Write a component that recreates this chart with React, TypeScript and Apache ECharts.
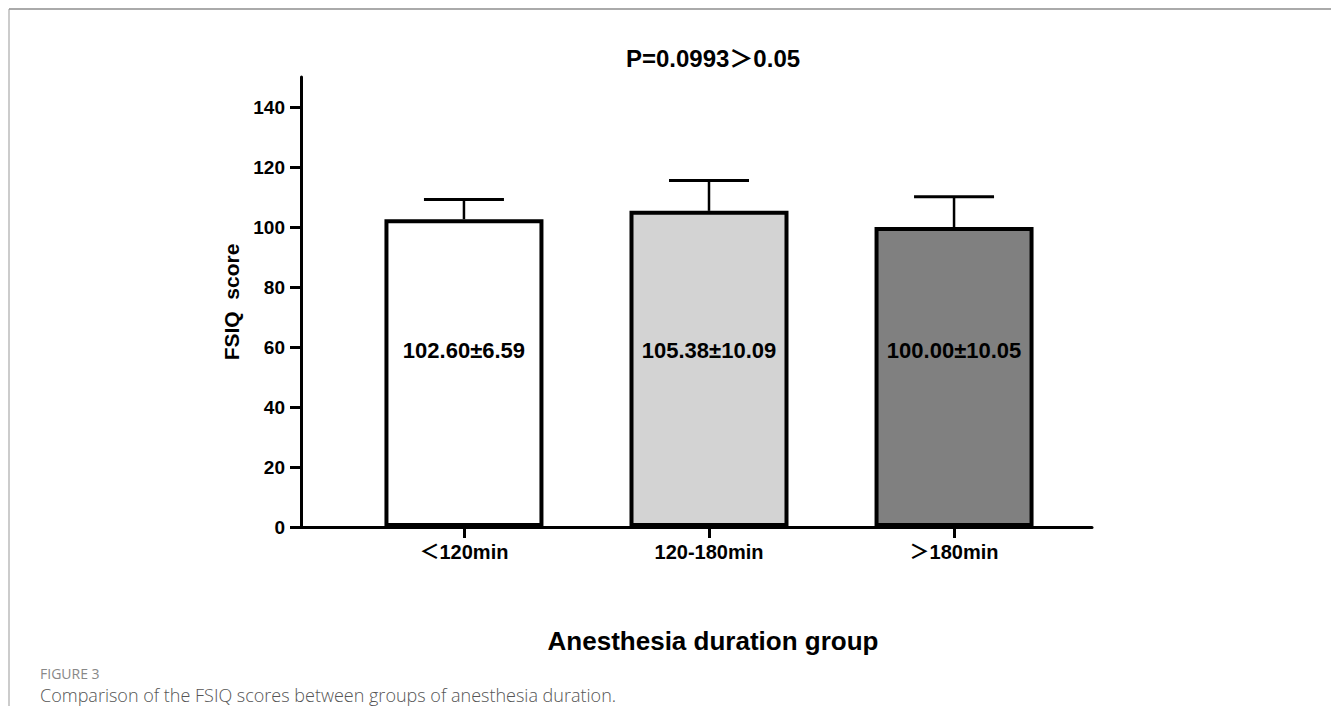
import React, { useEffect, useRef } from "react";
import * as echarts from "echarts";

const categories = ["＜120min", "120-180min", "＞180min"];
const means = [102.6, 105.38, 100.0];
const sds = [6.59, 10.09, 10.05];
const barColors = ["#ffffff", "#d3d3d3", "#808080"];
const yTicks = [0, 20, 40, 60, 80, 100, 120, 140];
const titleText = "P=0.0993＞0.05";
const xName = "Anesthesia duration group";
const yName = "FSIQ  score";
const figLabel = "FIGURE 3";
const caption = "Comparison of the FSIQ scores between groups of anesthesia duration.";

const FONT = "'Liberation Sans', Arial, 'Noto Sans CJK SC', sans-serif";

export default function App() {
  const ref = useRef<HTMLDivElement>(null);
  useEffect(() => {
    if (!ref.current) return;
    const chart = echarts.init(ref.current, null, { renderer: "svg" });
    const barData = means.map((m, i) => ({
      value: [i, m],
      itemStyle: { color: barColors[i] },
    }));
    const errData = means.map((m, i) => [i, m, m + sds[i]]);
    chart.setOption({
      animation: false,
      backgroundColor: "#ffffff",
      title: [
        {
          text: titleText,
          left: 708,
          top: 41,
          textAlign: "center",
          textStyle: { fontFamily: FONT, fontWeight: "bold", fontSize: 24, color: "#000" },
        },
        {
          text: xName,
          left: 708,
          top: 623,
          textAlign: "center",
          textStyle: { fontFamily: FONT, fontWeight: "bold", fontSize: 26, color: "#000" },
        },
      ],
      grid: { left: 301, right: 239, top: 77, bottom: 179, containLabel: false },
      xAxis: {
        type: "value",
        min: -0.665,
        max: 2.563,
        splitLine: { show: false },
        axisLine: { show: true, onZero: false, lineStyle: { color: "#000", width: 3 } },
        axisTick: {
          show: true,
          customValues: [0, 1, 2],
          length: 11,
          lineStyle: { color: "#000", width: 3 },
        },
        axisLabel: {
          customValues: [0, 1, 2],
          formatter: (v: number) => categories[Math.round(v)],
          fontFamily: FONT,
          fontWeight: "bold",
          fontSize: 20,
          color: "#000",
          margin: 15,
        },
      },
      yAxis: {
        type: "value",
        min: 0,
        max: 150,
        name: yName,
        nameLocation: "middle",
        nameGap: 57,
        nameRotate: 90,
        nameTextStyle: { fontFamily: FONT, fontWeight: "bold", fontSize: 21, color: "#000" },
        splitLine: { show: false },
        axisLine: { show: true, onZero: false, lineStyle: { color: "#000", width: 3 } },
        axisTick: {
          show: true,
          customValues: yTicks,
          length: 11,
          lineStyle: { color: "#000", width: 3 },
        },
        axisLabel: {
          customValues: yTicks,
          fontFamily: FONT,
          fontWeight: "bold",
          fontSize: 19,
          color: "#000",
          margin: 16,
        },
      },
      series: [
        {
          type: "bar",
          data: barData,
          barWidth: 159,
          itemStyle: { borderColor: "#000", borderWidth: 4 },
          label: {
            show: true,
            position: "insideBottom",
            distance: 166,
            formatter: (p: any) =>
              `${means[p.dataIndex].toFixed(2)}±${sds[p.dataIndex].toFixed(2)}`,
            fontFamily: FONT,
            fontWeight: "bold",
            fontSize: 22,
            color: "#000",
          },
          z: 2,
        },
        {
          type: "custom",
          data: errData,
          z: 3,
          renderItem: (params: any, api: any) => {
            const x = api.value(0);
            const lo = api.coord([x, api.value(1)]);
            const hi = api.coord([x, api.value(2)]);
            const half = 40;
            return {
              type: "group",
              children: [
                {
                  type: "line",
                  shape: { x1: lo[0], y1: lo[1], x2: hi[0], y2: hi[1] },
                  style: { stroke: "#000", lineWidth: 2.5 },
                },
                {
                  type: "line",
                  shape: { x1: hi[0] - half, y1: hi[1], x2: hi[0] + half, y2: hi[1] },
                  style: { stroke: "#000", lineWidth: 3 },
                },
              ],
            };
          },
        },
      ],
      graphic: [
        {
          type: "line",
          shape: { x1: 9, y1: 9, x2: 1331, y2: 9 },
          style: { stroke: "#aaaaaa", lineWidth: 2 },
        },
        {
          type: "line",
          shape: { x1: 9, y1: 9, x2: 9, y2: 706 },
          style: { stroke: "#999999", lineWidth: 1 },
        },
        {
          type: "text",
          left: 40,
          top: 666,
          style: {
            text: figLabel,
            fontFamily: "'Open Sans', sans-serif",
            fontSize: 14,
            fill: "#888888",
          },
        },
        {
          type: "text",
          left: 40,
          top: 686,
          style: {
            text: caption,
            fontFamily: "'Open Sans', sans-serif",
            fontWeight: 300,
            fontSize: 18,
            fill: "#555555",
          },
        },
      ],
    });
    return () => chart.dispose();
  }, []);
  return (
    <div
      ref={ref}
      style={{ position: "absolute", left: 0, top: 0, width: 1331, height: 706 }}
    />
  );
}
